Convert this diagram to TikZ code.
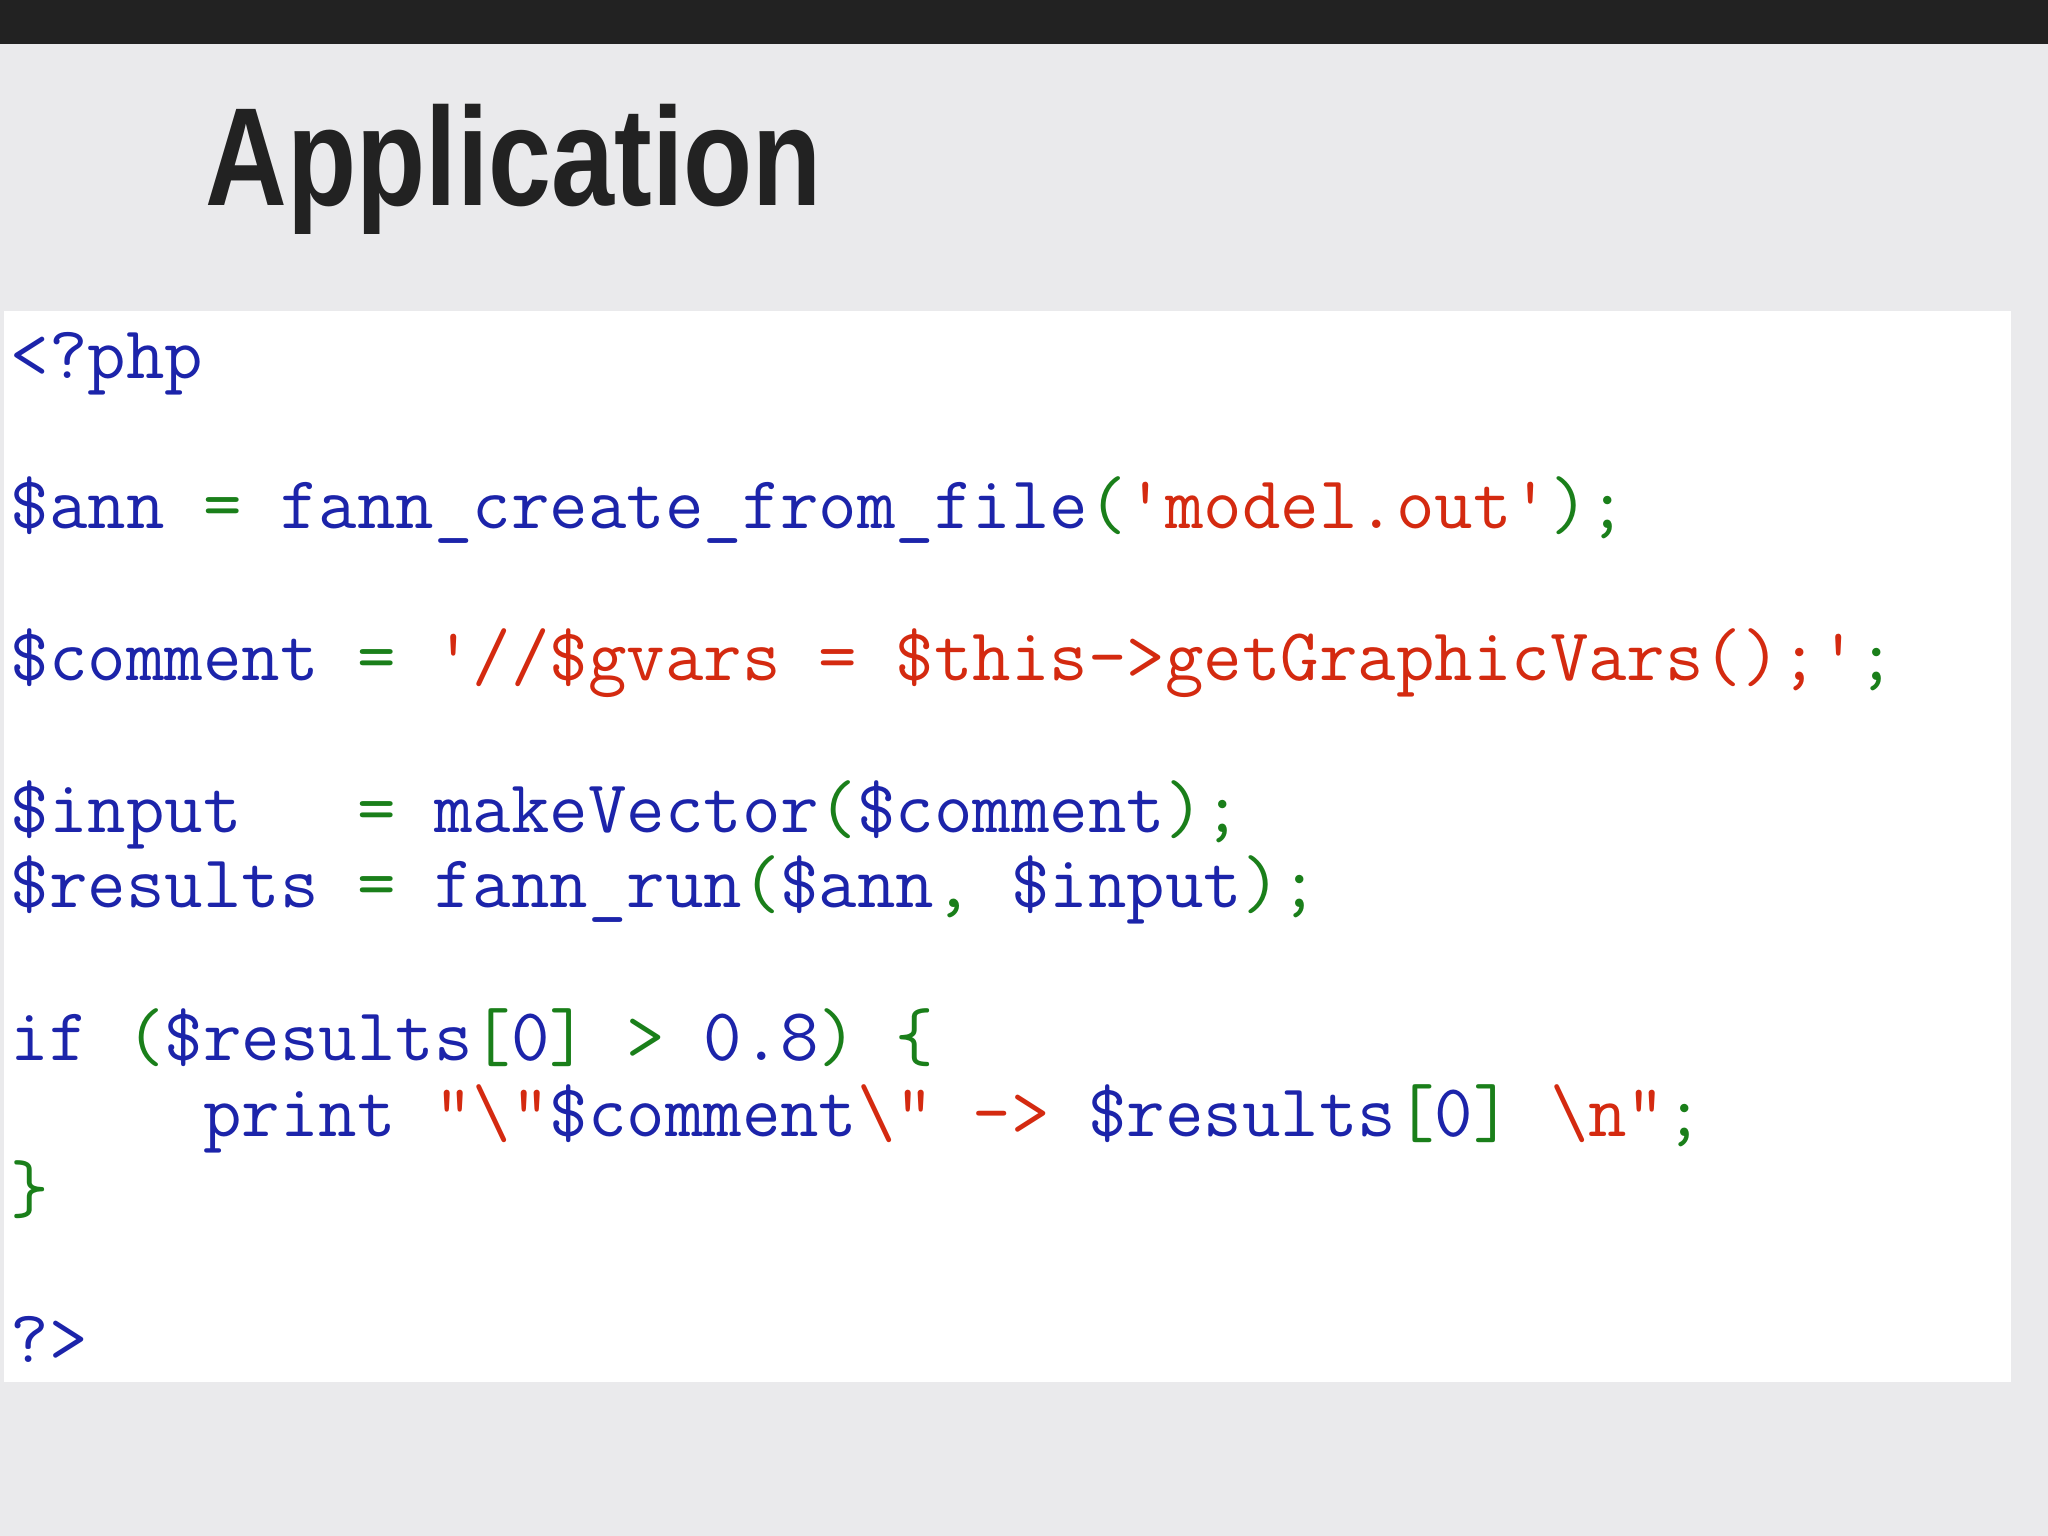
\documentclass[tikz,border=0pt]{standalone}
\usepackage{fontspec}
\newfontfamily\titlefont{Liberation Sans}
\definecolor{cb}{HTML}{1C24AA}
\definecolor{cg}{HTML}{1A7F1A}
\definecolor{cr}{HTML}{D42A10}
\definecolor{bar}{HTML}{222222}
\definecolor{bg}{HTML}{EAEAEC}
\newcommand\cB[1]{\textcolor{cb}{#1}}
\newcommand\cG[1]{\textcolor{cg}{#1}}
\newcommand\cR[1]{\textcolor{cr}{#1}}
\newcommand\sq{\symbol{"27}}
\newcommand\dq{\symbol{"22}}
\newcommand\bs{\symbol{"5C}}
\tikzset{code/.style={anchor=base west,inner sep=0pt,font=\fontsize{28.6pt}{30pt}\ttfamily}}
\begin{document}
\begin{tikzpicture}[x=0.5pt,y=-0.5pt]
\fill[bg] (0,0) rectangle (1568,1176);
\fill[bar] (0,0) rectangle (1568,34);
\fill[white] (3,238) rectangle (1540,1058);
\node[anchor=base west,inner sep=0pt,text=bar] (title) at (157,157)
  {\scalebox{0.81}[1]{\titlefont\bfseries\fontsize{53.5pt}{60pt}\selectfont Application}};
\node[code] (l1) at (8,290) {\cB{<?php}};
\node[code] (l2) at (8,405) {\cB{\$ann}~\cG{=}~\cB{fann\_create\_from\_file}\cG{(}\cR{\sq model.out\sq}\cG{);}};
\node[code] (l3) at (8,521) {\cB{\$comment}~\cG{=}~\cR{\sq//\$gvars~=~\$this->getGraphicVars();\sq}\cG{;}};
\node[code] (l4) at (8,637) {\cB{\$input}~~~\cG{=}~\cB{makeVector}\cG{(}\cB{\$comment}\cG{);}};
\node[code] (l5) at (8,695) {\cB{\$results}~\cG{=}~\cB{fann\_run}\cG{(}\cB{\$ann}\cG{,}~\cB{\$input}\cG{);}};
\node[code] (l6) at (8,812) {\cB{if}~\cG{(}\cB{\$results}\cG{[}\cB{0}\cG{]}~\cG{>}~\cB{0.8}\cG{)}~\cG{\{}};
\node[code] (l7) at (8,870) {~~~~~\cB{print}~\cR{\dq\bs\dq}\cB{\$comment}\cR{\bs\dq}~\cR{->}~\cB{\$results}\cG{[}\cB{0}\cG{]}~\cR{\bs n\dq}\cG{;}};
\node[code] (l8) at (8,928) {\cG{\}}};
\node[code] (l9) at (8,1043) {\cB{?>}};
\end{tikzpicture}
\end{document}
